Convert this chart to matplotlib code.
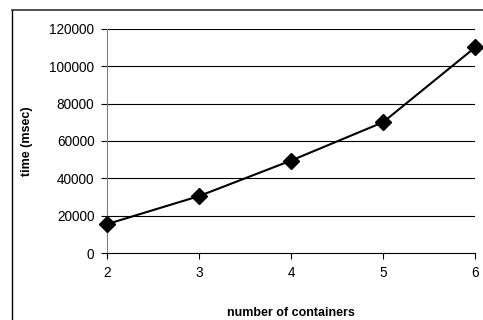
import matplotlib.pyplot as plt
from matplotlib.lines import Line2D

plt.rcParams["font.family"] = ["Liberation Sans", "DejaVu Sans"]

containers = [2, 3, 4, 5, 6]
time_msec = [15500, 30500, 49500, 70000, 110000]
y_ticks = [0, 20000, 40000, 60000, 80000, 100000, 120000]

fig = plt.figure(figsize=(4.83, 3.2), dpi=100)
ax = fig.add_axes([0.2215, 0.209, 0.762, 0.701])

for yv in y_ticks[1:]:
    ax.axhline(yv, color="black", lw=0.8, zorder=1)

ax.plot(containers, time_msec, color="black", lw=1.5, marker="D",
        markersize=8, clip_on=False, zorder=3)

ax.set_xlim(2, 6)
ax.set_ylim(0, 120000)
ax.set_xticks(containers)
ax.set_yticks(y_ticks)
ax.tick_params(labelsize=9.8, length=4, width=0.8, direction="out", pad=5)
ax.spines["top"].set_visible(False)
ax.spines["right"].set_visible(False)
ax.spines["left"].set_color("#808080")
ax.spines["bottom"].set_color("black")
ax.spines["left"].set_linewidth(0.8)
ax.spines["bottom"].set_linewidth(0.8)

ax.set_xlabel("number of containers", fontsize=9, fontweight="bold", labelpad=20)
ax.set_ylabel("time (msec)", fontsize=9, fontweight="bold", labelpad=12)

# outer chart frame
fig.add_artist(Line2D([12 / 483, 12 / 483], [0, 1 - 10 / 320], color="black", lw=1.0))
fig.add_artist(Line2D([12 / 483, 1], [1 - 10 / 320, 1 - 10 / 320], color="#333333", lw=1.2))

fig.savefig("out.png", dpi=100)
